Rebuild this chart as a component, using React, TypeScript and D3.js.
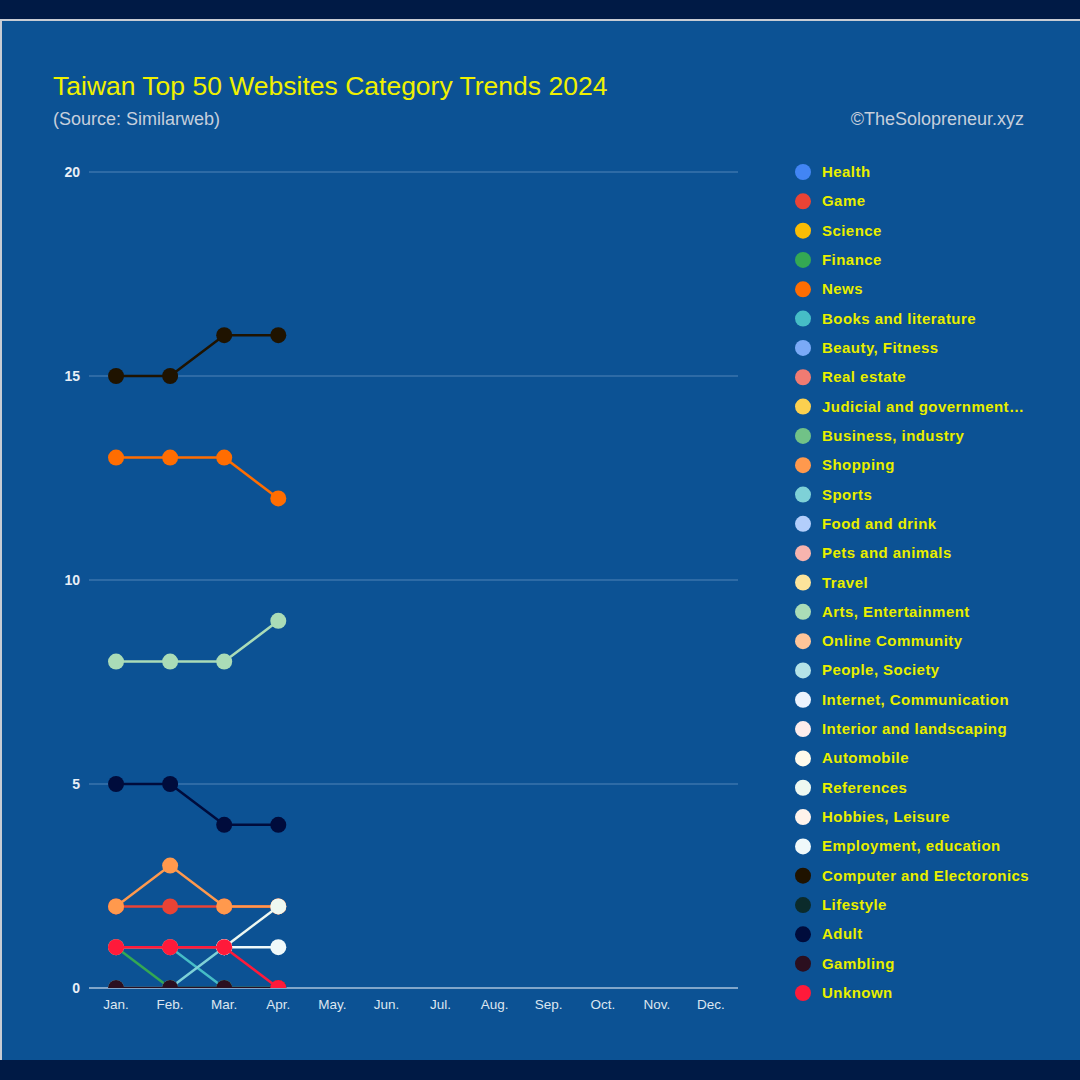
import * as d3 from "d3";
import { useEffect, useRef } from "react";

const months = ["Jan.", "Feb.", "Mar.", "Apr.", "May.", "Jun.", "Jul.", "Aug.", "Sep.", "Oct.", "Nov.", "Dec."];
const yTicks = [0, 5, 10, 15, 20];

const categories = [
  "Health", "Game", "Science", "Finance", "News", "Books and literature", "Beauty, Fitness",
  "Real estate", "Judicial and government…", "Business, industry", "Shopping", "Sports",
  "Food and drink", "Pets and animals", "Travel", "Arts, Entertainment", "Online Community",
  "People, Society", "Internet, Communication", "Interior and landscaping", "Automobile",
  "References", "Hobbies, Leisure", "Employment, education", "Computer and Electoronics",
  "Lifestyle", "Adult", "Gambling", "Unknown",
];

const colors = [
  "#4285f4", "#ea4335", "#fbbc04", "#34a853", "#ff6d01", "#46bdc6", "#7baaf7",
  "#f07b72", "#fcd04f", "#71c287", "#ff994d", "#7ed1d7",
  "#b3cefb", "#f7b4ae", "#fde49b", "#aadcb7", "#ffc599",
  "#b5e3e7", "#ecf3fe", "#fdeceb", "#fffaeb",
  "#eef8f1", "#fff3eb", "#f0f9fa", "#1f1300",
  "#0b2b2b", "#000c3c", "#2b0f1f", "#ff1a3a",
];

// values per month (Jan..Apr), null = not in the list
const game = [2, 2, 2, 2];
const finance = [1, 0, 0, 0];
const news = [13, 13, 13, 12];
const books = [1, 1, 0, 0];
const realEstate = [1, 1, 1, null];
const shopping = [2, 3, 2, 2];
const sports = [0, 0, 1, null];
const arts = [8, 8, 8, 9];
const references = [null, null, 1, 2];
const employment = [null, null, 1, 1];
const computer = [15, 15, 16, 16];
const adult = [5, 5, 4, 4];
const gambling = [0, 0, 0, 0];
const unknown = [1, 1, 1, 0];

const seriesValues: Record<string, (number | null)[]> = {
  "Game": game,
  "Finance": finance,
  "News": news,
  "Books and literature": books,
  "Real estate": realEstate,
  "Shopping": shopping,
  "Sports": sports,
  "Arts, Entertainment": arts,
  "References": references,
  "Employment, education": employment,
  "Computer and Electoronics": computer,
  "Adult": adult,
  "Gambling": gambling,
  "Unknown": unknown,
};

const App = () => {
  const ref = useRef<SVGSVGElement>(null);

  useEffect(() => {
    const svg = d3.select(ref.current);
    svg.selectAll("*").remove();

    // frame
    svg.append("rect").attr("width", 1080).attr("height", 1080).attr("fill", "#001a45");
    svg.append("rect").attr("x", 0).attr("y", 19).attr("width", 1080).attr("height", 3).attr("fill", "#c8ccd4");
    svg.append("rect").attr("x", 0).attr("y", 21).attr("width", 1080).attr("height", 1039).attr("fill", "#0c5294");
    svg.append("rect").attr("x", 0).attr("y", 21).attr("width", 2).attr("height", 1039).attr("fill", "#c8ccd4");

    const font = "'Liberation Sans', Arial, sans-serif";

    svg.append("text").attr("x", 53).attr("y", 95)
      .attr("font-family", font).attr("font-size", 26.5).attr("fill", "#f0f000")
      .text("Taiwan Top 50 Websites Category Trends 2024");
    svg.append("text").attr("x", 53).attr("y", 125)
      .attr("font-family", font).attr("font-size", 18).attr("fill", "#c6cfdc")
      .text("(Source: Similarweb)");
    svg.append("text").attr("x", 1024).attr("y", 125).attr("text-anchor", "end")
      .attr("font-family", font).attr("font-size", 18).attr("fill", "#c6cfdc")
      .text("©TheSolopreneur.xyz");

    const x = d3.scaleBand().domain(months).range([89, 738]);
    const cx = (m: string) => (x(m) as number) + x.bandwidth() / 2;
    const y = d3.scaleLinear().domain([0, 20]).range([988, 172]);

    // grid
    const g = svg.append("g");
    g.selectAll(".grid").data(yTicks.filter(t => t > 0)).enter().append("line")
      .attr("x1", 89).attr("x2", 738)
      .attr("y1", d => y(d)).attr("y2", d => y(d))
      .attr("stroke", "#3a74ad").attr("stroke-width", 1.5);
    g.append("line").attr("x1", 89).attr("x2", 738).attr("y1", y(0)).attr("y2", y(0))
      .attr("stroke", "#a9c3dc").attr("stroke-width", 1.5);

    g.selectAll(".ytick").data(yTicks).enter().append("text")
      .attr("x", 80).attr("y", d => y(d) + 5).attr("text-anchor", "end")
      .attr("font-family", font).attr("font-size", 14).attr("font-weight", "bold")
      .attr("fill", "#e8eef6").text(d => d);

    g.selectAll(".xtick").data(months).enter().append("text")
      .attr("x", d => cx(d)).attr("y", 1009).attr("text-anchor", "middle")
      .attr("font-family", font).attr("font-size", 13.5)
      .attr("fill", "#dce6f0").text(d => d);

    // clip so points on 0 are cut at the axis
    svg.append("clipPath").attr("id", "plotclip").append("rect")
      .attr("x", 80).attr("y", 150).attr("width", 670).attr("height", 988 - 150);

    const plot = svg.append("g").attr("clip-path", "url(#plotclip)");
    const line = d3.line<number | null>()
      .defined(d => d !== null)
      .x((_, i) => cx(months[i]))
      .y(d => y(d as number));

    categories.forEach((c, ci) => {
      const vals = seriesValues[c];
      if (!vals) return;
      const color = colors[ci];
      plot.append("path").datum(vals).attr("d", line)
        .attr("fill", "none").attr("stroke", color).attr("stroke-width", 2.5);
      plot.selectAll(null).data(vals.map((v, i) => ({ v, i })).filter(d => d.v !== null))
        .enter().append("circle")
        .attr("cx", d => cx(months[d.i]))
        .attr("cy", d => y(d.v as number))
        .attr("r", 8).attr("fill", color);
    });

    // legend
    const leg = svg.append("g");
    const ly = d3.scalePoint().domain(categories).range([172, 993]);
    leg.selectAll("circle").data(categories).enter().append("circle")
      .attr("cx", 803).attr("cy", d => ly(d) as number).attr("r", 8)
      .attr("fill", (_, i) => colors[i]);
    leg.selectAll("text").data(categories).enter().append("text")
      .attr("x", 822).attr("y", d => (ly(d) as number) + 5)
      .attr("font-family", font).attr("font-size", 15).attr("font-weight", "bold")
      .attr("letter-spacing", 0.45)
      .attr("fill", "#e8f000")
      .attr("stroke", "rgba(20,40,20,0.35)").attr("stroke-width", 0.6).attr("paint-order", "stroke")
      .text(d => d);
  }, []);

  return (
    <div style={{ position: "absolute", left: 0, top: 0 }}>
      <svg ref={ref} width="1080" height="1080" style={{ display: "block" }}></svg>
    </div>
  );
};

export default App;
